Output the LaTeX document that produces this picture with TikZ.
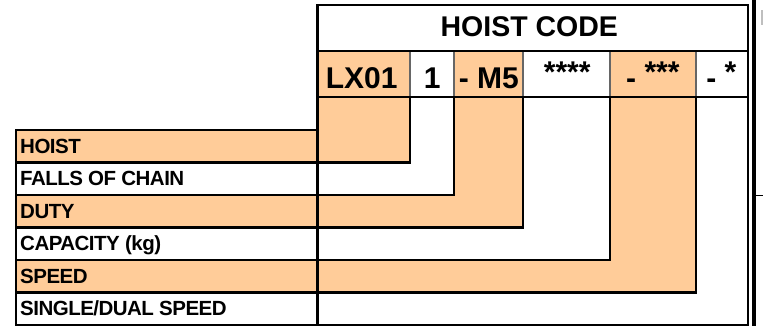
\documentclass[tikz,border=0pt]{standalone}
\usepackage{fontspec}
\setmainfont{Liberation Sans}
\newfontfamily\labfont{Liberation Sans}[LetterSpace=-2.5]
\definecolor{peach}{RGB}{255,204,153}
\begin{document}
\begin{tikzpicture}[x=1pt,y=-1pt,line join=miter,
  rule/.style={line width=2.2pt,black},
  thinrule/.style={line width=1.2pt,black!60},
  lab/.style={anchor=base west,inner sep=0pt,font=\labfont\fontsize{20.5}{24}\selectfont\bfseries},
  codetxt/.style={anchor=base,inner sep=0pt,font=\fontsize{30}{34}\selectfont\bfseries},
  headtxt/.style={anchor=base,inner sep=0pt,font=\fontsize{28.5}{32}\selectfont\bfseries}]
\useasboundingbox (0,0) rectangle (763,326);
% fills
\fill[peach] (16,130)--(317.5,130)--(317.5,51)--(410,51)--(410,162.5)--(16,162.5)--cycle;
\fill[peach] (16,195)--(454,195)--(454,51)--(523,51)--(523,227.5)--(16,227.5)--cycle;
\fill[peach] (16,260)--(610,260)--(610,51)--(696,51)--(696,292.5)--(16,292.5)--cycle;
% thin dividers in code row
\foreach \x in {410,454,523,610,696} \draw[thinrule] (\x,51)--(\x,97);
% outer frame
\draw[rule] (317.5,5) rectangle (748,325);
\draw[rule] (317.5,51)--(748,51);
\draw[rule] (317.5,97)--(748,97);
\draw[rule] (317.5,130)--(16,130)--(16,325)--(317.5,325);
% L shaped guides
\draw[rule] (16,162.5)--(410,162.5)--(410,97);
\draw[rule] (16,195)--(454,195)--(454,97);
\draw[rule] (16,227.5)--(523,227.5)--(523,97);
\draw[rule] (16,260)--(610,260)--(610,97);
\draw[rule] (16,292.5)--(696,292.5)--(696,97);
% right edge
\draw[line width=3.7pt,black] (754.2,0)--(754.2,326);
\draw[line width=1.5pt,black] (756,195.5)--(763,195.5);
\fill[black!25] (761,10) rectangle (763,25);
% header
\node[headtxt] (head) at (529.3,36.7) {HOIST CODE};
% code
\node[codetxt] (c1) at (361.7,88.7) {LX01};
\node[codetxt] (c2) at (432.2,88.7) {1};
\node[codetxt] (c3) at (488.9,88.7) {- M5};
\node[codetxt] (c4) at (567.2,88.7) {\raisebox{6pt}{****}};
\node[codetxt] (c5) at (652.9,88.7) {- \raisebox{6pt}{***}};
\node[codetxt] (c6) at (721.4,88.7) {- \raisebox{6pt}{*}};
% labels
\node[lab] (l1) at (20,153.3) {HOIST};
\node[lab] (l2) at (20,185.8) {FALLS OF CHAIN};
\node[lab] (l3) at (20,218.3) {DUTY};
\node[lab] (l4) at (20,250.8) {CAPACITY (kg)};
\node[lab] (l5) at (20,283.3) {SPEED};
\node[lab] (l6) at (20,315.8) {SINGLE/DUAL SPEED};
\end{tikzpicture}
\end{document}
